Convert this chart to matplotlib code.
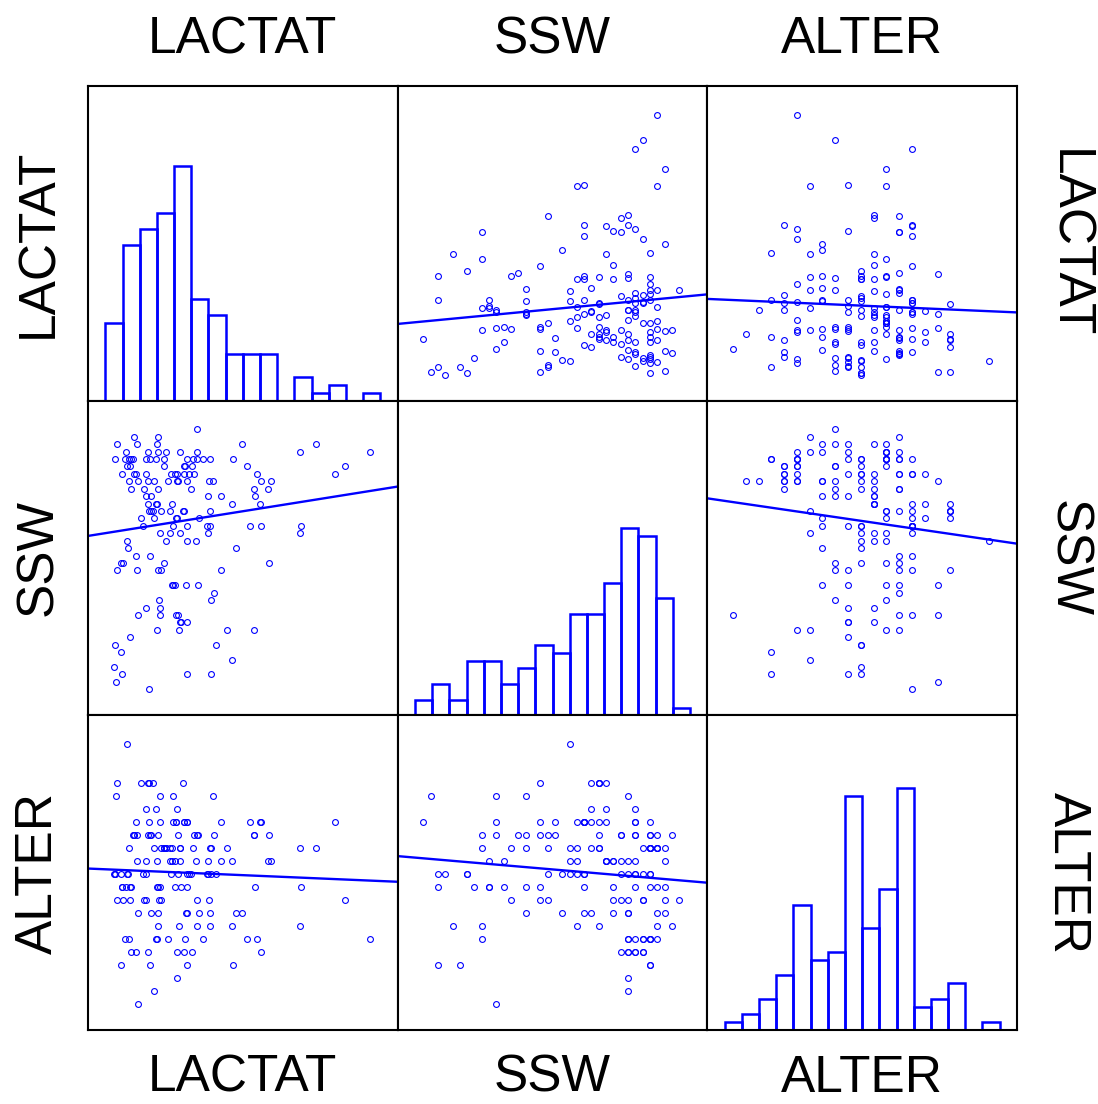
"""Scatterplot matrix of LACTAT, SSW and ALTER with histograms on the diagonal."""

import matplotlib

matplotlib.use("Agg")
import matplotlib.pyplot as plt
import numpy as np

NAMES = ["LACTAT", "SSW", "ALTER"]

# one entry per case (n = 155)
lactat = [
    1.91, 2.49, 3.35, 1.48, 1.26, 2.35, 3.73, 5.46, 1.63, 1.81,
    2.26, 3.35, 3.63, 3.93, 6.50, 2.61, 10.56, 1.40, 1.54, 2.56,
    3.01, 3.64, 4.31, 5.98, 6.36, 5.43, 3.44, 7.94, 4.58, 4.10,
    2.63, 3.70, 5.58, 4.60, 4.16, 2.38, 1.88, 3.73, 2.66, 5.78,
    1.10, 1.35, 1.60, 2.10, 2.20, 2.68, 2.75, 4.09, 4.54, 9.63,
    3.34, 2.56, 2.20, 1.06, 2.70, 3.20, 4.70, 1.09, 2.01, 2.26,
    2.29, 2.46, 3.59, 2.31, 0.98, 4.61, 1.28, 1.04, 4.80, 1.60,
    5.23, 6.23, 3.45, 3.51, 3.73, 3.30, 3.38, 2.20, 2.73, 4.63,
    4.74, 4.15, 3.18, 3.28, 1.84, 4.99, 2.66, 1.25, 2.88, 6.81,
    1.83, 2.33, 1.51, 2.94, 4.08, 3.71, 2.70, 3.11, 3.48, 4.50,
    2.09, 3.20, 3.74, 4.49, 6.09, 6.49, 7.98, 2.49, 3.30, 2.38,
    2.75, 3.11, 3.63, 2.61, 3.16, 5.43, 6.46, 4.50, 5.01, 6.26,
    2.64, 3.88, 6.25, 6.76, 3.38, 6.88, 1.30, 1.75, 3.13, 3.28,
    3.63, 3.81, 3.98, 9.28, 1.50, 2.88, 1.04, 1.54, 1.63, 1.69,
    2.18, 2.88, 3.73, 3.95, 4.11, 4.58, 1.44, 2.25, 2.95, 3.46,
    7.94, 1.86, 2.59, 8.56, 1.76,
]
# gestational age in days
ssw = [
    262, 280, 280, 272, 257, 283, 254, 283, 279, 281,
    280, 281, 282, 282, 280, 260, 284, 283, 280, 283,
    280, 282, 283, 282, 281, 256, 260, 273, 276, 284,
    286, 266, 271, 274, 275, 278, 280, 280, 284, 285,
    285, 269, 282, 279, 278, 264, 268, 287, 280, 282,
    275, 277, 281, 253, 262, 266, 280, 268, 275, 277,
    276, 276, 276, 252, 255, 254, 254, 258, 258, 259,
    260, 260, 261, 261, 261, 262, 262, 263, 263, 264,
    265, 266, 266, 266, 268, 268, 268, 269, 269, 269,
    270, 270, 271, 272, 272, 272, 273, 273, 273, 273,
    274, 274, 274, 274, 274, 274, 274, 275, 275, 276,
    276, 276, 276, 277, 277, 277, 277, 278, 278, 278,
    279, 279, 279, 279, 280, 280, 281, 281, 281, 281,
    281, 281, 281, 281, 282, 282, 283, 283, 283, 283,
    283, 283, 283, 283, 283, 283, 284, 284, 284, 284,
    284, 285, 285, 285, 286,
]
alter = [
    19, 20, 21, 39, 22, 22, 22, 22, 23, 23,
    23, 23, 23, 23, 23, 24, 24, 24, 24, 24,
    24, 24, 24, 24, 24, 25, 25, 25, 25, 25,
    25, 26, 26, 26, 26, 26, 26, 26, 26, 26,
    27, 27, 27, 27, 27, 27, 27, 27, 27, 27,
    34, 34, 34, 35, 35, 35, 35, 36, 36, 36,
    36, 36, 36, 33, 29, 29, 28, 29, 29, 28,
    31, 32, 30, 28, 28, 33, 32, 30, 28, 31,
    32, 32, 31, 28, 32, 33, 28, 29, 31, 32,
    33, 32, 29, 31, 30, 29, 33, 30, 31, 29,
    29, 33, 33, 29, 33, 33, 28, 31, 33, 32,
    31, 31, 33, 30, 30, 30, 33, 30, 30, 28,
    32, 29, 32, 30, 29, 30, 28, 32, 29, 30,
    33, 29, 32, 33, 29, 31, 29, 31, 28, 32,
    29, 31, 33, 31, 32, 31, 28, 32, 31, 31,
    31, 30, 28, 31, 32,
]

# histogram bar heights (16 bins each)
lactat_counts = [10, 20, 22, 24, 30, 13, 11, 6, 6, 6, 0, 3, 1, 2, 0, 1]
ssw_counts = [2, 4, 2, 7, 7, 4, 6, 9, 8, 13, 13, 17, 24, 23, 15, 1]
alter_counts = [1, 2, 4, 7, 16, 9, 10, 30, 13, 18, 31, 3, 4, 6, 0, 1]

BLUE = "#0000ff"
W, H = 1098, 1104
LEFT, RIGHT, TOP, BOTTOM = 88, 1017, 86, 1030


def limits(v):
    lo, hi = min(v), max(v)
    r = hi - lo
    return lo - 0.1 * r, hi + 0.11 * r


def hist_edges(v, nbins):
    lo, hi = min(v), max(v)
    r = hi - lo
    return np.linspace(lo - 0.032 * r, hi + 0.042 * r, nbins + 1)


def main():
    data = [np.array(lactat), np.array(ssw), np.array(alter)]
    counts = [lactat_counts, ssw_counts, alter_counts]
    lims = [limits(v) for v in data]
    hist_top = 1.3 * max(max(c) for c in counts)

    fig = plt.figure(figsize=(W / 100, H / 100), dpi=100)
    gs = fig.add_gridspec(
        3, 3,
        left=LEFT / W, right=RIGHT / W,
        top=1 - TOP / H, bottom=1 - BOTTOM / H,
        wspace=0, hspace=0,
    )

    for i in range(3):
        for j in range(3):
            ax = fig.add_subplot(gs[i, j])
            ax.set_xticks([])
            ax.set_yticks([])
            for s in ax.spines.values():
                s.set_linewidth(1.5)
                s.set_color("black")
            ax.set_xlim(lims[j])

            if i == j:
                edges = hist_edges(data[j], len(counts[j]))
                ax.bar(edges[:-1], counts[j], width=np.diff(edges), align="edge",
                       fill=False, edgecolor=BLUE, linewidth=1.8)
                ax.set_ylim(0, hist_top)
            else:
                x, y = data[j], data[i]
                ax.plot(x, y, "o", mfc="none", mec=BLUE, ms=4.2, mew=0.8)
                slope, icpt = np.polyfit(x, y, 1)
                xs = np.array(lims[j])
                ax.plot(xs, icpt + slope * xs, color=BLUE, lw=1.7)
                ax.set_ylim(lims[i])

    font = dict(family="Liberation Sans", fontsize=37, color="black")
    col_c = [(LEFT + (RIGHT - LEFT) * (k + 0.5) / 3) / W for k in range(3)]
    row_c = [1 - (TOP + (BOTTOM - TOP) * (k + 0.5) / 3) / H for k in range(3)]
    for k, name in enumerate(NAMES):
        fig.text(col_c[k], 1 - 53 / H, name, ha="center", va="baseline", **font)
        fig.text(col_c[k], 1 - 1092 / H, name, ha="center", va="baseline", **font)
        fig.text(52 / W, row_c[k], name, ha="center", va="baseline",
                 rotation=90, rotation_mode="anchor", **font)
        fig.text(1054 / W, row_c[k], name, ha="center", va="baseline",
                 rotation=270, rotation_mode="anchor", **font)

    fig.savefig("out.png", dpi=100)


if __name__ == "__main__":
    main()
